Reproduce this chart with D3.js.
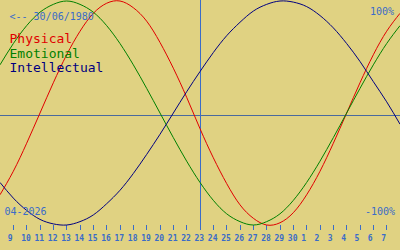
<!DOCTYPE html>
<html>
<head>
<meta charset="utf-8">
<script src="https://cdn.jsdelivr.net/npm/d3@7"></script>
<style>
  html, body { margin: 0; padding: 0; background: #e0d282; }
  svg { display: block; }
  text { font-family: "DejaVu Sans Mono", monospace; }
</style>
</head>
<body>
<svg id="chart" width="400" height="250"></svg>
<script>
// Day-of-month labels for ticks (April 9 .. May 7)
const tickLabels = [9,10,11,12,13,14,15,16,17,18,19,20,21,22,23,24,25,26,27,28,29,30,1,2,3,4,5,6,7];
// Sampled values (one per day, from the day before the first tick to the day after the last)
const physical = [-0.73,-0.52,-0.27,0.00,0.27,0.52,0.73,0.89,0.98,1.00,0.94,0.82,0.63,0.40,0.14,-0.14,-0.40,-0.63,-0.82,-0.94,-1.00,-0.98,-0.89,-0.73,-0.52,-0.27,0.00,0.27,0.52,0.73,0.89];
const emotional = [0.43,0.62,0.78,0.90,0.97,1.00,0.97,0.90,0.78,0.62,0.43,0.22,0.00,-0.22,-0.43,-0.62,-0.78,-0.90,-0.97,-1.00,-0.97,-0.90,-0.78,-0.62,-0.43,-0.22,0.00,0.22,0.43,0.62,0.78];
const intellectual = [-0.62,-0.76,-0.87,-0.95,-0.99,-1.00,-0.97,-0.91,-0.81,-0.69,-0.54,-0.37,-0.19,0.00,0.19,0.37,0.54,0.69,0.81,0.91,0.97,1.00,0.99,0.95,0.87,0.76,0.62,0.46,0.28,0.10,-0.10];
const seriesNames = ["Physical","Emotional","Intellectual"];
const seriesColors = ["#e00000","#008000","#000080"];
const todayIndex = 15;          // 23rd, the current day
const birthLabel = "<-- 30/06/1980";
const monthLabel = "04-2026";
const topLabel = "100%";
const bottomLabel = "-100%";

const W = 400, H = 250;
const svg = d3.select("#chart");
const blue = "#3a6cc8";

const x = d3.scaleLinear().domain([0, physical.length - 1]).range([0, W]);
const y = d3.scaleLinear().domain([-1, 1]).range([225, 1]);

// midline
svg.append("line")
  .attr("x1", 0).attr("x2", W)
  .attr("y1", Math.round(y(0)) + 2.5).attr("y2", Math.round(y(0)) + 2.5)
  .attr("stroke", "#4a6a9e").attr("stroke-width", 1);

// today line
const tx = Math.floor(x(todayIndex)) + 0.5;
svg.append("line")
  .attr("x1", tx).attr("x2", tx).attr("y1", 0).attr("y2", 230)
  .attr("stroke", blue).attr("stroke-width", 1);

// ticks
const tickG = svg.append("g");
tickLabels.forEach((lab, i) => {
  const px = Math.floor(x(i + 1)) + 0.5;
  tickG.append("line")
    .attr("x1", px).attr("x2", px).attr("y1", 225).attr("y2", 230)
    .attr("stroke", blue).attr("stroke-width", 1);
  tickG.append("text")
    .attr("x", x(i + 1) - 5.5).attr("y", 241)
    .attr("fill", blue).attr("font-size", 8).attr("font-weight", "bold")
    .text(lab);
});

// curves
const line = d3.line().x((d, i) => x(i)).y(d => y(d)).curve(d3.curveNatural);
[physical, emotional, intellectual].forEach((s, k) => {
  svg.append("path").datum(s)
    .attr("d", line)
    .attr("fill", "none")
    .attr("stroke", seriesColors[k])
    .attr("stroke-width", 1);
});

// labels
svg.append("text").attr("x", 9.5).attr("y", 20).attr("font-size", 10).attr("fill", blue).text(birthLabel);
svg.append("text").attr("x", 4.5).attr("y", 215).attr("font-size", 10).attr("fill", blue).text(monthLabel);
svg.append("text").attr("x", 394).attr("y", 15).attr("font-size", 10).attr("fill", blue).attr("text-anchor", "end").text(topLabel);
svg.append("text").attr("x", 395).attr("y", 215).attr("font-size", 10).attr("fill", blue).attr("text-anchor", "end").text(bottomLabel);

seriesNames.forEach((n, k) => {
  svg.append("text")
    .attr("x", 9.5).attr("y", 43 + k * 14.7)
    .attr("font-size", 13).attr("fill", seriesColors[k])
    .text(n);
});
</script>
</body>
</html>
